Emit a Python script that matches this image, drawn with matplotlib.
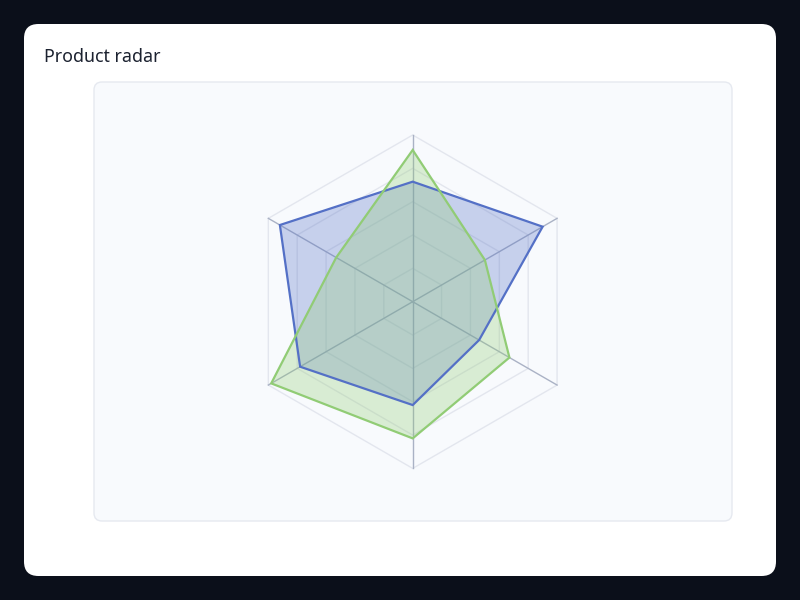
import numpy as np
import matplotlib.pyplot as plt
from matplotlib.patches import FancyBboxPatch, Polygon

plt.rcParams['font.family'] = ['Noto Sans', 'DejaVu Sans']

# radar data (scale 0..100), axes clockwise from top
indicators = ['A', 'B', 'C', 'D', 'E', 'F']
series_a = [72, 90, 46, 62, 78, 92]
series_b = [91, 50, 67, 82, 98, 53]
max_value = 100
ring_levels = [0.2, 0.4, 0.6, 0.8, 1.0]

BLUE = '#5470c6'
GREEN = '#91cc75'

W, H = 800, 600
fig = plt.figure(figsize=(W / 100, H / 100), dpi=100)
fig.patch.set_facecolor('#0b0f1a')

# white card
card = FancyBboxPatch((24 / W, 24 / H), 752 / W, 552 / H,
                      boxstyle='round,pad=0,rounding_size=0.018',
                      transform=fig.transFigure, facecolor='white',
                      edgecolor='none', mutation_aspect=W / H, zorder=-2)
fig.patches.append(card)

# light panel
panel = FancyBboxPatch((94 / W, (H - 521) / H), 638 / W, 439 / H,
                       boxstyle='round,pad=0,rounding_size=0.01',
                       transform=fig.transFigure, facecolor='#f8fafd',
                       edgecolor='#e6e9f0', linewidth=1, mutation_aspect=W / H,
                       zorder=-1)
fig.patches.append(panel)

fig.text(44 / W, 1 - 61.7 / H, 'Product radar', fontsize=12.8, color='#1c2230',
         va='baseline', ha='left')

# radar axes
cx, cy, rad = 412.7, 301.7, 166.7
half = 1.1
ax = fig.add_axes([(cx - rad * half) / W, (H - cy - rad * half) / H,
                   2 * rad * half / W, 2 * rad * half / H])
ax.set_zorder(2)
ax.set_xlim(-half, half)
ax.set_ylim(-half, half)
ax.set_aspect('equal')
ax.axis('off')

n = len(indicators)
angles = np.pi / 2 - np.arange(n) * 2 * np.pi / n
ux, uy = np.cos(angles), np.sin(angles)

for lv in ring_levels:
    ax.add_patch(Polygon(np.column_stack([ux * lv, uy * lv]), closed=True,
                         fill=False, edgecolor='#e3e6ee', linewidth=1, zorder=1))
for x, y in zip(ux, uy):
    ax.plot([0, x], [0, y], color='#aab2c5', linewidth=1, zorder=2)

for vals, col in [(series_a, BLUE), (series_b, GREEN)]:
    r = np.array(vals) / max_value
    pts = np.column_stack([ux * r, uy * r])
    ax.add_patch(Polygon(pts, closed=True, facecolor=col, alpha=0.3,
                         edgecolor='none', zorder=3))
    ax.add_patch(Polygon(pts, closed=True, fill=False, edgecolor=col,
                         linewidth=1.6, joinstyle='miter', zorder=4))

fig.savefig('out.png', dpi=100, facecolor=fig.get_facecolor())
